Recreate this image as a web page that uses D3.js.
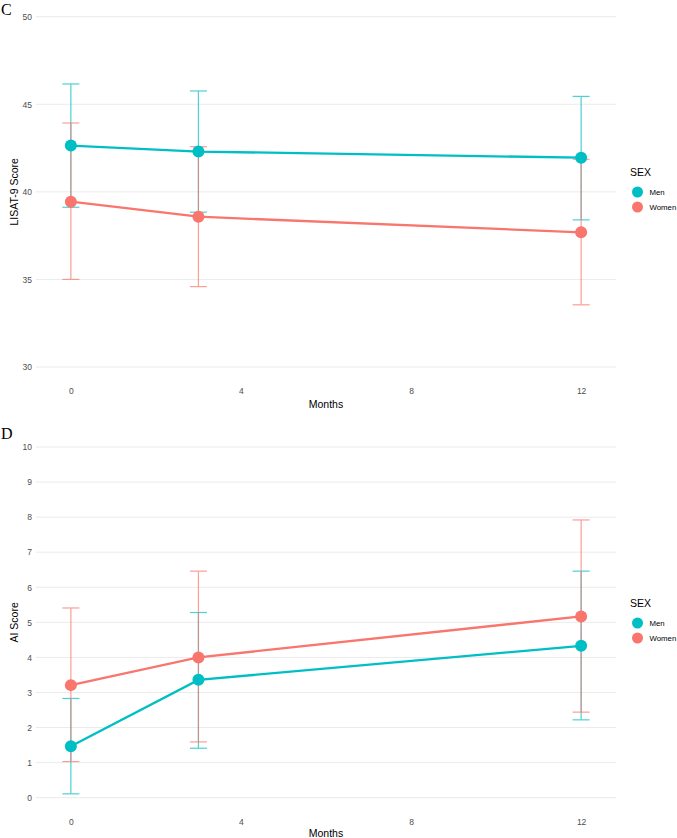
<!DOCTYPE html>
<html>
<head>
<meta charset="utf-8">
<script src="https://cdn.jsdelivr.net/npm/d3@7"></script>
<style>
  body { margin: 0; background: white; }
</style>
</head>
<body>
<div id="container"></div>
<script>
let w = 677;
let h = 838;

// shared
let months = [0, 3, 12];
let xTicks = [0, 4, 8, 12];
let sexes = ["Men", "Women"];
let colors = ["#00BFC4", "#F8766D"];

// panel C - LISAT-9
let lisatMen = [42.64, 42.30, 41.95];
let lisatMenLow = [39.12, 38.84, 38.40];
let lisatMenHigh = [46.16, 45.76, 45.45];
let lisatWomen = [39.44, 38.58, 37.69];
let lisatWomenLow = [35.00, 34.59, 33.55];
let lisatWomenHigh = [43.93, 42.58, 41.86];
let lisatTicks = [30, 35, 40, 45, 50];

// panel D - AI
let aiMen = [1.47, 3.36, 4.33];
let aiMenLow = [0.11, 1.41, 2.22];
let aiMenHigh = [2.83, 5.28, 6.46];
let aiWomen = [3.21, 4.00, 5.17];
let aiWomenLow = [1.03, 1.59, 2.44];
let aiWomenHigh = [5.41, 6.46, 7.92];
let aiTicks = [0, 1, 2, 3, 4, 5, 6, 7, 8, 9, 10];

let viz = d3.select("#container")
  .append("svg")
    .attr("width", w)
    .attr("height", h)
    .style("background-color", "white")
;

function drawPanel(p){
  let g = viz.append("g");

  let x = d3.scaleLinear().domain([-0.82, 12.82]).range([36, 616]);
  let y = d3.scaleLinear().domain(p.yDomain).range(p.yRange);

  // gridlines
  g.selectAll(".grid")
    .data(p.yTicks)
    .enter()
    .append("line")
      .attr("x1", 36)
      .attr("x2", 616)
      .attr("y1", d => y(d))
      .attr("y2", d => y(d))
      .style("stroke", "#ebebeb")
      .style("stroke-width", 1)
  ;

  let yAxis = d3.axisLeft(y).tickValues(p.yTicks).tickSize(0).tickPadding(4);
  g.append("g")
    .attr("transform", "translate(36,0)")
    .call(yAxis)
    .call(a => a.select(".domain").remove())
    .selectAll("text")
      .attr("fill", "#4d4d4d")
      .style("font-size", "8.5px")
      .style("font-family", "Liberation Sans, Arial, sans-serif")
  ;

  let xAxis = d3.axisBottom(x).tickValues(xTicks).tickSize(0).tickPadding(0);
  g.append("g")
    .attr("transform", "translate(0," + p.xLabelY + ")")
    .call(xAxis)
    .call(a => a.select(".domain").remove())
    .selectAll("text")
      .attr("fill", "#4d4d4d")
      .style("font-size", "8.5px")
      .style("font-family", "Liberation Sans, Arial, sans-serif")
  ;

  g.append("text")
    .text("Months")
    .attr("x", x(6))
    .attr("y", p.xTitleY)
    .attr("text-anchor", "middle")
    .attr("fill", "black")
    .style("font-size", "10.5px")
    .style("font-family", "Liberation Sans, Arial, sans-serif")
  ;

  g.append("text")
    .text(p.yTitle)
    .attr("transform", "translate(18," + (p.yRange[0] + p.yRange[1]) / 2 + ") rotate(-90)")
    .attr("text-anchor", "middle")
    .attr("fill", "black")
    .style("font-size", "10.5px")
    .style("font-family", "Liberation Sans, Arial, sans-serif")
  ;

  g.append("text")
    .text(p.letter)
    .attr("x", 1)
    .attr("y", p.letterY)
    .attr("fill", "black")
    .style("font-size", "16px")
    .style("font-family", "Liberation Serif, Times New Roman, serif")
  ;

  p.series.forEach(function(s, si){
    let pts = months.map((m, i) => ({m: m, v: s.vals[i], lo: s.low[i], hi: s.high[i]}));
    let eb = g.append("g").style("opacity", 0.7);
    eb.selectAll(".v").data(pts).enter().append("line")
      .attr("x1", d => x(d.m)).attr("x2", d => x(d.m))
      .attr("y1", d => y(d.lo)).attr("y2", d => y(d.hi))
      .style("stroke", colors[si]).style("stroke-width", 1.2);
    eb.selectAll(".t").data(pts).enter().append("line")
      .attr("x1", d => x(d.m - 0.2)).attr("x2", d => x(d.m + 0.2))
      .attr("y1", d => y(d.hi)).attr("y2", d => y(d.hi))
      .style("stroke", colors[si]).style("stroke-width", 1.2);
    eb.selectAll(".b").data(pts).enter().append("line")
      .attr("x1", d => x(d.m - 0.2)).attr("x2", d => x(d.m + 0.2))
      .attr("y1", d => y(d.lo)).attr("y2", d => y(d.lo))
      .style("stroke", colors[si]).style("stroke-width", 1.2);
  });

  p.series.forEach(function(s, si){
    let pts = months.map((m, i) => ({m: m, v: s.vals[i]}));
    let line = d3.line().x(d => x(d.m)).y(d => y(d.v));
    g.append("path")
      .datum(pts)
      .attr("d", line)
      .attr("fill", "none")
      .style("stroke", colors[si])
      .style("stroke-width", 2.3)
    ;
    g.selectAll(".pt" + si).data(pts).enter().append("circle")
      .attr("cx", d => x(d.m))
      .attr("cy", d => y(d.v))
      .attr("r", 6)
      .attr("fill", colors[si])
    ;
  });

  // legend
  let lg = g.append("g").attr("transform", "translate(630," + p.legendY + ")");
  lg.append("text")
    .text("SEX")
    .attr("x", 0)
    .attr("y", 0)
    .attr("fill", "black")
    .style("font-size", "10.5px")
    .style("font-family", "Liberation Sans, Arial, sans-serif")
  ;
  sexes.forEach(function(s, i){
    lg.append("circle")
      .attr("cx", 7.5)
      .attr("cy", 16 + i * 15)
      .attr("r", 5.5)
      .attr("fill", colors[i]);
    lg.append("text")
      .text(s)
      .attr("x", 19.5)
      .attr("y", 19 + i * 15)
      .attr("fill", "black")
      .style("font-size", "7.8px")
      .style("font-family", "Liberation Sans, Arial, sans-serif");
  });
}

drawPanel({
  letter: "C", letterY: 15,
  yTitle: "LISAT-9 Score",
  yDomain: [30, 50], yRange: [367, 16.7], yTicks: lisatTicks,
  xLabelY: 388, xTitleY: 408, legendY: 176,
  series: [
    {vals: lisatMen, low: lisatMenLow, high: lisatMenHigh},
    {vals: lisatWomen, low: lisatWomenLow, high: lisatWomenHigh}
  ]
});

drawPanel({
  letter: "D", letterY: 439,
  yTitle: "AI Score",
  yDomain: [0, 10], yRange: [797.7, 447], yTicks: aiTicks,
  xLabelY: 819, xTitleY: 837, legendY: 607,
  series: [
    {vals: aiMen, low: aiMenLow, high: aiMenHigh},
    {vals: aiWomen, low: aiWomenLow, high: aiWomenHigh}
  ]
});
</script>
</body>
</html>
